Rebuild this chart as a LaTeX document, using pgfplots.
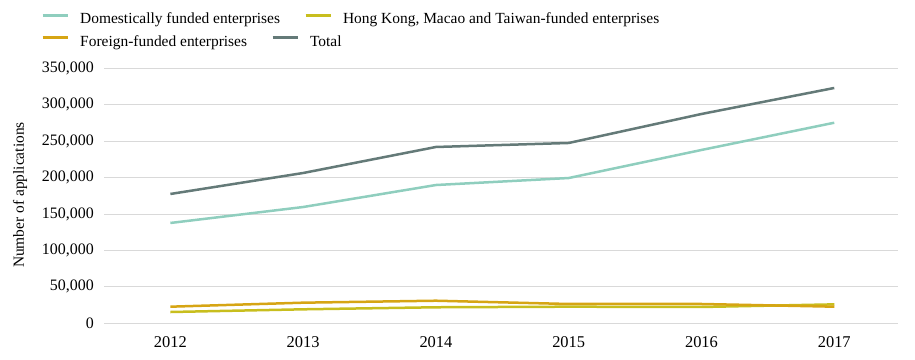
\documentclass[border=0pt]{standalone}
\usepackage{fontspec}
\setmainfont{Liberation Serif}
\usepackage{pgfplots}
\pgfplotsset{compat=1.18}
\definecolor{domc}{RGB}{143,206,190}
\definecolor{hkc}{RGB}{200,190,30}
\definecolor{forc}{RGB}{214,165,20}
\definecolor{totc}{RGB}{100,122,120}
\definecolor{gridc}{RGB}{217,217,217}
\pgfplotsset{
  mylegend/.style={
    legend columns=-1,
    legend cell align=left,
    legend style={anchor=west, draw=none, fill=none,
      font=\fontsize{15.5}{17}\selectfont, inner sep=0pt,
      nodes={inner sep=0pt},
      /tikz/every odd column/.append style={column sep=11bp},
      /tikz/every even column/.append style={column sep=24bp}},
    legend image code/.code={\draw[##1, line width=3bp] (0bp,4bp) -- (25bp,4bp);},
  },
  base/.style={
    at={(104bp,36.7bp)}, anchor=south west,
    scale only axis, width=794bp, height=255bp,
    xmin=2011.5, xmax=2017.48, ymin=0, ymax=350000,
  }
}
\begin{document}
\begin{tikzpicture}
\path[use as bounding box] (0,0) rectangle (915bp,360bp);
\begin{axis}[
  base, mylegend,
  legend style={at={(axis description cs:-0.0793,1.1922)}},
  xtick={2012,2013,2014,2015,2016,2017},
  ytick={0,50000,100000,150000,200000,250000,300000,350000},
  scaled y ticks=false,
  /pgf/number format/assume math mode=true,
  xticklabel style={/pgf/number format/fixed, /pgf/number format/1000 sep={}, font=\fontsize{16.5}{18}\selectfont, anchor=north, inner sep=0pt, yshift=-13.5bp},
  yticklabel style={/pgf/number format/fixed, /pgf/number format/1000 sep={,}, font=\fontsize{16}{18}\selectfont, anchor=east, inner sep=0pt, xshift=-10bp},
  axis line style={draw=none}, tick style={draw=none},
  ymajorgrids, grid style={draw=gridc, line width=1bp},
  ylabel={Number of applications},
  every axis y label/.style={at={(axis description cs:0,0.503)}, xshift=-84bp, rotate=90, anchor=center, font=\fontsize{15.5}{17}\selectfont},
]
\addplot[domc, line width=2.5bp] coordinates {(2012,137700) (2013,159600) (2014,189800) (2015,199400) (2016,237900) (2017,275300)};
\addlegendentry{Domestically funded enterprises}
\addplot[hkc, line width=2.5bp] coordinates {(2012,15500) (2013,19200) (2014,22000) (2015,22800) (2016,22400) (2017,26000)};
\addlegendentry{Hong Kong, Macao and Taiwan-funded enterprises}
\addplot[forc, line width=2.5bp, forget plot] coordinates {(2012,22800) (2013,28300) (2014,31000) (2015,26500) (2016,26500) (2017,22800)};
\addplot[totc, line width=2.5bp, forget plot] coordinates {(2012,177500) (2013,206300) (2014,242000) (2015,247500) (2016,287300) (2017,323000)};
\end{axis}
\begin{axis}[
  base, mylegend, hide axis,
  legend style={at={(axis description cs:-0.0793,1.1043)}},
]
\addlegendimage{forc, line width=2.5bp}
\addlegendentry{Foreign-funded enterprises}
\addlegendimage{totc, line width=2.5bp}
\addlegendentry{Total}
\end{axis}
\end{tikzpicture}
\end{document}
